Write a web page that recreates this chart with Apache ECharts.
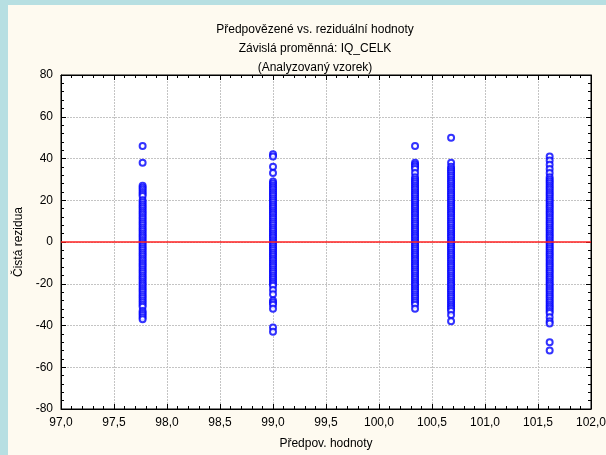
<!DOCTYPE html>
<html>
<head>
<meta charset="utf-8">
<script src="https://cdn.jsdelivr.net/npm/echarts@6/dist/echarts.min.js"></script>
<style>
    html, body { margin: 0; padding: 0; background: #b7dfe2; }
    #chart { position: absolute; left: 8px; top: 5px; width: 598px; height: 450px; background: #fefaf0; }
</style>
</head>
<body>
<div id="chart"></div>
<script>
// predicted values (x) of the five groups
var predicted = [97.77, 99.0, 100.34, 100.68, 101.61];

// residuals, one list per group
var res1 = [46, 38, 27, 26, 25, 24, 23, 22, 20, 19, 18, 17, 16, 15, 14, 13, 12, 11, 10, 9, 8, 7, 6, 5, 4, 3, 2, 1, 0,
    -1, -2, -3, -4, -5, -6, -7, -8, -9, -10, -11, -12, -13, -14, -15, -16, -17, -18, -19, -20, -21, -22, -23, -24,
    -25, -26, -27, -28, -29, -30, -31, -33, -34, -35, -36, -37];
var res2 = [42, 41, 36, 33, 29, 28, 27, 26, 25, 24, 23, 22, 21, 20, 19, 18, 17, 16, 15, 14, 13, 12, 11, 10, 9, 8, 7,
    6, 5, 4, 3, 2, 1, 0, -1, -2, -3, -4, -5, -6, -7, -8, -9, -10, -11, -12, -13, -14, -15, -16, -17, -18, -19, -20,
    -21, -23, -25, -28, -29, -30, -32, -41, -43];
var res3 = [46, 38, 37, 36, 35, 33, 31, 30, 29, 28, 27, 26, 25, 24, 23, 22, 21, 20, 19, 18, 17, 16, 15, 14, 13, 12,
    11, 10, 9, 8, 7, 6, 5, 4, 3, 2, 1, 0, -1, -2, -3, -4, -5, -6, -7, -8, -9, -10, -11, -12, -13, -14, -15, -16, -17,
    -18, -19, -20, -21, -22, -23, -24, -25, -26, -27, -28, -29, -30, -32];
var res4 = [50, 38, 36, 35, 34, 33, 32, 31, 30, 29, 28, 27, 26, 25, 24, 23, 22, 21, 20, 19, 18, 17, 16, 15, 14,
    13, 12, 11, 10, 9, 8, 7, 6, 5, 4, 3, 2, 1, 0, -1, -2, -3, -4, -5, -6, -7, -8, -9, -10, -11, -12, -13, -14, -15,
    -16, -17, -18, -19, -20, -21, -22, -23, -24, -25, -26, -27, -28, -29, -30, -31, -32, -33, -35, -38];
var res5 = [41, 39, 37, 35, 33, 31, 30, 29, 28, 27, 26, 25, 24, 23, 22, 21, 20, 19, 18, 17, 16, 15, 14, 13, 12, 11,
    10, 9, 8, 7, 6, 5, 4, 3, 2, 1, 0, -1, -2, -3, -4, -5, -6, -7, -8, -9, -10, -11, -12, -13, -14, -15, -16, -17, -18,
    -19, -20, -21, -22, -23, -24, -25, -26, -27, -28, -29, -30, -31, -32, -33, -34, -36, -38, -39, -48, -52];

var residuals = [res1, res2, res3, res4, res5];

var points = [];
for (var i = 0; i < predicted.length; i++) {
    for (var j = 0; j < residuals[i].length; j++) {
        points.push([predicted[i], residuals[i][j]]);
    }
}

var font = 'Liberation Sans, Arial, sans-serif';
var commaFmt = function (v) { return v.toFixed(1).replace('.', ','); };

var myChart = echarts.init(document.getElementById('chart'));
var option = {
    animation: false,
    title: {
        text: 'Předpovězené vs. reziduální hodnoty\nZávislá proměnná: IQ_CELK\n(Analyzovaný vzorek)',
        left: 302,
        top: 10,
        textAlign: 'center',
        textStyle: { fontFamily: font, fontSize: 12, fontWeight: 'normal', color: '#000', lineHeight: 19 }
    },
    grid: {
        left: 53, right: 15, top: 70, bottom: 46,
        outerBoundsMode: 'none',
        show: true, backgroundColor: '#ffffff', borderColor: '#000', borderWidth: 1
    },
    xAxis: [{
        type: 'value', min: 97, max: 102, interval: 0.5,
        name: 'Předpov. hodnoty', nameLocation: 'middle', nameGap: 29,
        nameTextStyle: { fontFamily: font, fontSize: 12, color: '#000' },
        axisLine: { onZero: false, lineStyle: { color: '#000' } },
        axisTick: { inside: true, length: 5, lineStyle: { color: '#000' } },
        minorTick: { show: true, splitNumber: 5, length: 3, lineStyle: { color: '#000' } },
        axisLabel: { fontFamily: font, fontSize: 12, color: '#000', margin: 8, formatter: commaFmt },
        splitLine: { show: true, lineStyle: { color: '#c4c4c4', type: [2, 1] } }
    }, {
        type: 'value', min: 97, max: 102, interval: 0.5, position: 'top',
        axisLine: { onZero: false, lineStyle: { color: '#000' } },
        axisTick: { inside: true, length: 5, lineStyle: { color: '#000' } },
        minorTick: { show: true, splitNumber: 5, length: 3, lineStyle: { color: '#000' } },
        axisLabel: { show: false },
        splitLine: { show: false }
    }],
    yAxis: [{
        type: 'value', min: -80, max: 80, interval: 20,
        name: 'Čistá rezidua', nameLocation: 'middle', nameGap: 36,
        nameTextStyle: { fontFamily: font, fontSize: 12, color: '#000' },
        axisLine: { onZero: false, lineStyle: { color: '#000' } },
        axisTick: { inside: true, length: 5, lineStyle: { color: '#000' } },
        minorTick: { show: true, splitNumber: 5, length: 3, lineStyle: { color: '#000' } },
        axisLabel: { fontFamily: font, fontSize: 12, color: '#000', margin: 8 },
        splitLine: { show: true, lineStyle: { color: '#c4c4c4', type: [2, 1] } }
    }, {
        type: 'value', min: -80, max: 80, interval: 20, position: 'right',
        axisLine: { onZero: false, lineStyle: { color: '#000' } },
        axisTick: { inside: true, length: 5, lineStyle: { color: '#000' } },
        minorTick: { show: true, splitNumber: 5, length: 3, lineStyle: { color: '#000' } },
        axisLabel: { show: false },
        splitLine: { show: false }
    }],
    series: [{
        type: 'scatter',
        xAxisIndex: 0, yAxisIndex: 0,
        symbol: 'emptyCircle',
        symbolSize: 6,
        itemStyle: { color: '#0000ff', borderColor: '#0000ff', borderWidth: 0.9 },
        data: points,
        markLine: {
            silent: true,
            symbol: 'none',
            label: { show: false },
            lineStyle: { color: '#ff2020', width: 1.5, type: 'solid' },
            data: [{ yAxis: 0 }]
        },
        z: 3
    }]
};
myChart.setOption(option);
</script>
</body>
</html>
